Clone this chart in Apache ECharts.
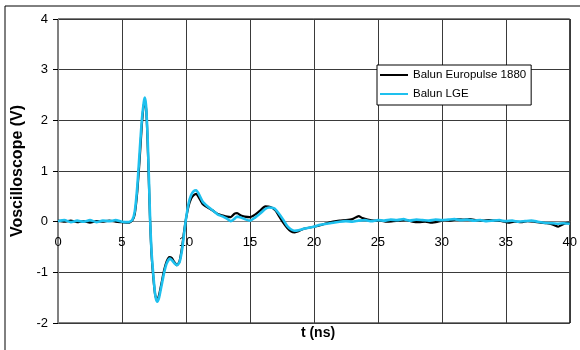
<!DOCTYPE html>
<html>
<head>
<meta charset="utf-8">
<script src="https://cdn.jsdelivr.net/npm/echarts@6/dist/echarts.min.js"></script>
<style>html,body{margin:0;padding:0;background:#fff}#c{width:580px;height:350px}</style>
</head>
<body>
<div id="c"></div>
<script>
const seriesNames = ['Balun Europulse 1880', 'Balun LGE'];
const xTicks = [0, 5, 10, 15, 20, 25, 30, 35, 40];
const yTicks = [-2, -1, 0, 1, 2, 3, 4];

const tBlack = [0,0.5,1,1.5,2,2.5,3,3.5,4,4.5,5,5.5,5.8,6.0,6.2,6.4,6.55,6.7,6.8,6.9,7.0,7.1,7.2,7.3,7.45,7.6,7.75,7.9,8.1,8.3,8.5,8.7,8.9,9.1,9.3,9.5,9.7,9.85,10.0,10.2,10.4,10.6,10.8,11.0,11.3,11.7,12.1,12.5,12.9,13.2,13.5,13.8,14.0,14.3,14.6,15.0,15.4,15.8,16.2,16.6,17.0,17.3,17.6,17.9,18.2,18.5,18.8,19.2,19.6,20.0,20.5,21.0,21.5,22.0,22.5,23.0,23.5,23.8,24.2,24.7,25.2,25.7,26.2,26.7,27.2,27.7,28.2,28.7,29.2,29.7,30.2,30.7,31.2,31.7,32.2,32.7,33.2,33.7,34.2,34.7,35.2,35.7,36.2,36.7,37.2,37.7,38.2,38.7,39.1,39.4,39.7,40];
const vBlack = [0.02,0.0,0.02,-0.01,0.01,-0.02,0.01,0.0,0.02,0.0,-0.01,-0.02,0.02,0.15,0.6,1.3,1.9,2.3,2.35,2.2,1.6,0.8,0.0,-0.6,-1.1,-1.45,-1.55,-1.45,-1.2,-0.95,-0.78,-0.7,-0.72,-0.8,-0.86,-0.78,-0.5,-0.2,0.05,0.3,0.45,0.52,0.55,0.48,0.35,0.28,0.22,0.15,0.12,0.1,0.09,0.16,0.17,0.12,0.1,0.09,0.14,0.22,0.3,0.29,0.22,0.1,-0.02,-0.12,-0.19,-0.21,-0.19,-0.14,-0.12,-0.1,-0.07,-0.03,0.0,0.02,0.03,0.05,0.11,0.07,0.04,0.02,0.02,0.0,0.01,0.02,0.03,0.0,-0.01,0.0,-0.02,0.0,0.03,0.02,0.05,0.04,0.05,0.03,0.02,0.03,0.02,0.01,-0.02,0.0,-0.01,0.01,0.0,-0.02,-0.03,-0.06,-0.1,-0.06,-0.03,-0.02];

const tCyan = [0,0.5,1,1.5,2,2.5,3,3.5,4,4.5,5,5.5,5.8,6.0,6.2,6.4,6.55,6.7,6.78,6.88,7.0,7.1,7.2,7.3,7.45,7.6,7.75,7.9,8.1,8.3,8.5,8.75,8.9,9.1,9.3,9.5,9.7,9.85,10.0,10.2,10.4,10.6,10.8,11.0,11.3,11.7,12.1,12.5,12.9,13.2,13.5,13.8,14.0,14.3,14.6,15.0,15.4,15.8,16.2,16.5,16.9,17.2,17.6,17.9,18.2,18.5,18.8,19.2,19.6,20.0,20.5,21.0,21.5,22.0,22.5,23.0,23.5,24.0,24.5,25.0,25.5,26.0,26.5,27.0,27.5,28.0,28.5,29.0,29.5,30.0,30.5,31.0,31.5,32.0,32.5,33.0,33.5,34.0,34.5,35.0,35.5,36.0,36.5,37.0,37.5,38.0,38.5,39.0,39.5,40];
const vCyan = [0.01,0.03,-0.01,0.02,0.0,0.03,-0.01,0.02,0.01,0.03,0.0,-0.01,0.03,0.2,0.7,1.45,2.0,2.35,2.45,2.3,1.7,0.9,0.05,-0.55,-1.05,-1.45,-1.58,-1.5,-1.25,-1.0,-0.82,-0.73,-0.76,-0.82,-0.86,-0.8,-0.55,-0.25,0.05,0.35,0.52,0.6,0.62,0.55,0.4,0.3,0.22,0.14,0.1,0.06,0.01,0.06,0.1,0.08,0.05,0.02,0.08,0.16,0.25,0.28,0.26,0.18,0.04,-0.08,-0.15,-0.18,-0.17,-0.14,-0.12,-0.1,-0.06,-0.04,-0.02,0.0,0.01,0.0,0.02,0.03,0.01,0.03,0.02,0.04,0.03,0.05,0.02,0.04,0.03,0.02,0.04,0.03,0.04,0.05,0.03,0.04,0.02,0.03,0.01,0.02,0.03,0.01,0.02,0.0,0.01,0.02,0.0,-0.02,-0.03,-0.04,-0.03,-0.04];

const pairs = (t, v) => t.map((x, i) => [x, v[i]]);

const GRID_TOP = 19, GRID_BOTTOM = 27, H = 350;
const plotH = H - GRID_TOP - GRID_BOTTOM;
const zeroOffset = -plotH * (0 - yTicks[0]) / (yTicks[yTicks.length - 1] - yTicks[0]);

const chart = echarts.init(document.getElementById('c'), null, {renderer: 'canvas'});
const FONT = 'Liberation Sans, Arial, sans-serif';
chart.setOption({
  animation: false,
  backgroundColor: '#fff',
  grid: {left: 58, right: 3, top: GRID_TOP, bottom: GRID_BOTTOM, show: true, borderColor: '#000', borderWidth: 1, containLabel: false},
  legend: {
    orient: 'vertical', left: 377, top: 65,
    data: [{name: seriesNames[0], icon: 'rect'}, {name: seriesNames[1], icon: 'rect'}],
    itemWidth: 28, itemHeight: 2, itemGap: 7,
    padding: [4, 5, 5, 3],
    backgroundColor: '#fff', borderColor: '#000', borderWidth: 1, borderRadius: 0,
    textStyle: {fontFamily: FONT, fontSize: 11.5, color: '#000'}
  },
  xAxis: {
    type: 'value', min: xTicks[0], max: xTicks[xTicks.length - 1], interval: 5,
    position: 'bottom', offset: zeroOffset,
    axisLine: {onZero: false, lineStyle: {color: '#808080', width: 1}},
    axisTick: {show: false},
    axisLabel: {fontFamily: FONT, fontSize: 13, color: '#000', margin: 14},
    splitLine: {show: true, lineStyle: {color: '#3a3a3a', width: 1}}
  },
  yAxis: {
    type: 'value', min: yTicks[0], max: yTicks[yTicks.length - 1], interval: 1,
    name: 'Voscilloscope (V)', nameLocation: 'middle', nameGap: 20,
    nameTextStyle: {fontFamily: FONT, fontSize: 16, fontWeight: 'bold', color: '#000'},
    axisLine: {show: true, lineStyle: {color: '#808080', width: 1}},
    axisTick: {show: true, length: 5, lineStyle: {color: '#000'}},
    axisLabel: {fontFamily: FONT, fontSize: 13, color: '#000', margin: 10},
    splitLine: {show: true, lineStyle: {color: '#3a3a3a', width: 1}}
  },
  graphic: [
    {type: 'rect', shape: {x: 5, y: 6, width: 700, height: 500}, style: {fill: 'none', stroke: '#000', lineWidth: 1}, silent: true, z: -1},
    {type: 'text', x: 318, y: 333, style: {text: 't (ns)', font: 'bold 14px ' + FONT, fill: '#000', textAlign: 'center', textVerticalAlign: 'middle'}}
  ],
  series: [
    {name: seriesNames[0], type: 'line', data: pairs(tBlack, vBlack), showSymbol: false, symbol: 'none', smooth: 0.2, color: '#000', lineStyle: {color: '#000', width: 2.2}, z: 2},
    {name: seriesNames[1], type: 'line', data: pairs(tCyan, vCyan), showSymbol: false, symbol: 'none', smooth: 0.2, color: '#1ec0ee', lineStyle: {color: '#1ec0ee', width: 2.6}, z: 3}
  ]
});
</script>
</body>
</html>
